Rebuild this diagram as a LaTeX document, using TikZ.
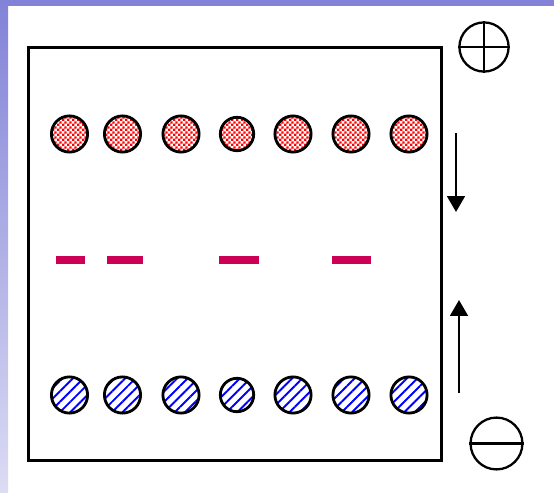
\documentclass[tikz,border=0pt]{standalone}
\usepackage{tikz}
\usepackage{xcolor}
\usetikzlibrary{arrows.meta, patterns, patterns.meta, positioning}

\definecolor{bandtop}{HTML}{8282D8}
\definecolor{bandbot}{HTML}{DCDCF4}
\definecolor{dashred}{HTML}{CC0055}

% fine checker for the positive charges
\pgfdeclarepatternformonly{finechecker}{\pgfpointorigin}{\pgfqpoint{3pt}{3pt}}{\pgfqpoint{3pt}{3pt}}{
    \pgfpathrectangle{\pgfpointorigin}{\pgfqpoint{1.5pt}{1.5pt}}
    \pgfpathrectangle{\pgfqpoint{1.5pt}{1.5pt}}{\pgfqpoint{1.5pt}{1.5pt}}
    \pgfusepath{fill}
}

\begin{document}
\begin{tikzpicture}[
    x=0.02cm, y=-0.02cm,
    poscharge/.style={draw, circle, line width=1.6pt, minimum size=20.6pt, inner sep=0pt,
        pattern=finechecker, pattern color=red},
    negcharge/.style={draw, circle, line width=1.6pt, minimum size=20.6pt, inner sep=0pt,
        pattern={Lines[angle=45, distance=4.2pt, line width=1.1pt]}, pattern color=blue},
    signmark/.style={draw, circle, line width=1.3pt, inner sep=0pt},
    fieldarrow/.style={line width=1.5pt, -{Triangle[length=9pt, width=10pt]}},
    trap/.style={fill=dashred, draw=none}
]
    \useasboundingbox (0,0) rectangle (554,493);

    % Frame bands
    \fill[bandtop] (0,0) rectangle (554,6);
    \shade[top color=bandtop, bottom color=bandbot] (0,0) rectangle (8,493);

    % Plate
    \draw[line width=1.7pt] (28.5,47.5) rectangle (441.5,460.5);

    % Positive charges
    \foreach \i/\x/\s in {1/69.5/20.6, 2/122.5/20.6, 3/181/20.6, 4/237/19, 5/293/20.6, 6/351/20.6, 7/409/20.6}
        \node (pos\i) [poscharge, minimum size=\s pt] at (\x,134) {};

    % Negative charges
    \foreach \i/\x/\s in {1/69.5/20.6, 2/122.5/20.6, 3/181/20.6, 4/237/19, 5/293/20.6, 6/351/20.6, 7/409/20.6}
        \node (neg\i) [negcharge, minimum size=\s pt] at (\x,395) {};

    % Trapped charges
    \fill[trap] (56,256) rectangle (85,264);
    \fill[trap] (107,256) rectangle (143,264);
    \fill[trap] (219,256) rectangle (259,264);
    \fill[trap] (332,256) rectangle (371,264);

    % Electrodes
    \node (plus) [signmark, minimum size=28pt] at (484,47) {};
    \draw[line width=1.3pt] (plus.north) -- (plus.south);
    \draw[line width=1.3pt] (plus.west) -- (plus.east);

    \node (minus) [signmark, minimum size=29.5pt] at (496.5,443.5) {};
    \draw[line width=1.3pt] (minus.west) -- (minus.east);

    % Field arrows
    \coordinate (dtop) at (456,133);
    \coordinate (dbot) at (456,212);
    \coordinate (ubot) at (459,393);
    \coordinate (utop) at (459,300);
    \draw[fieldarrow] (dtop) -- (dbot);
    \draw[fieldarrow] (ubot) -- (utop);
\end{tikzpicture}
\end{document}
